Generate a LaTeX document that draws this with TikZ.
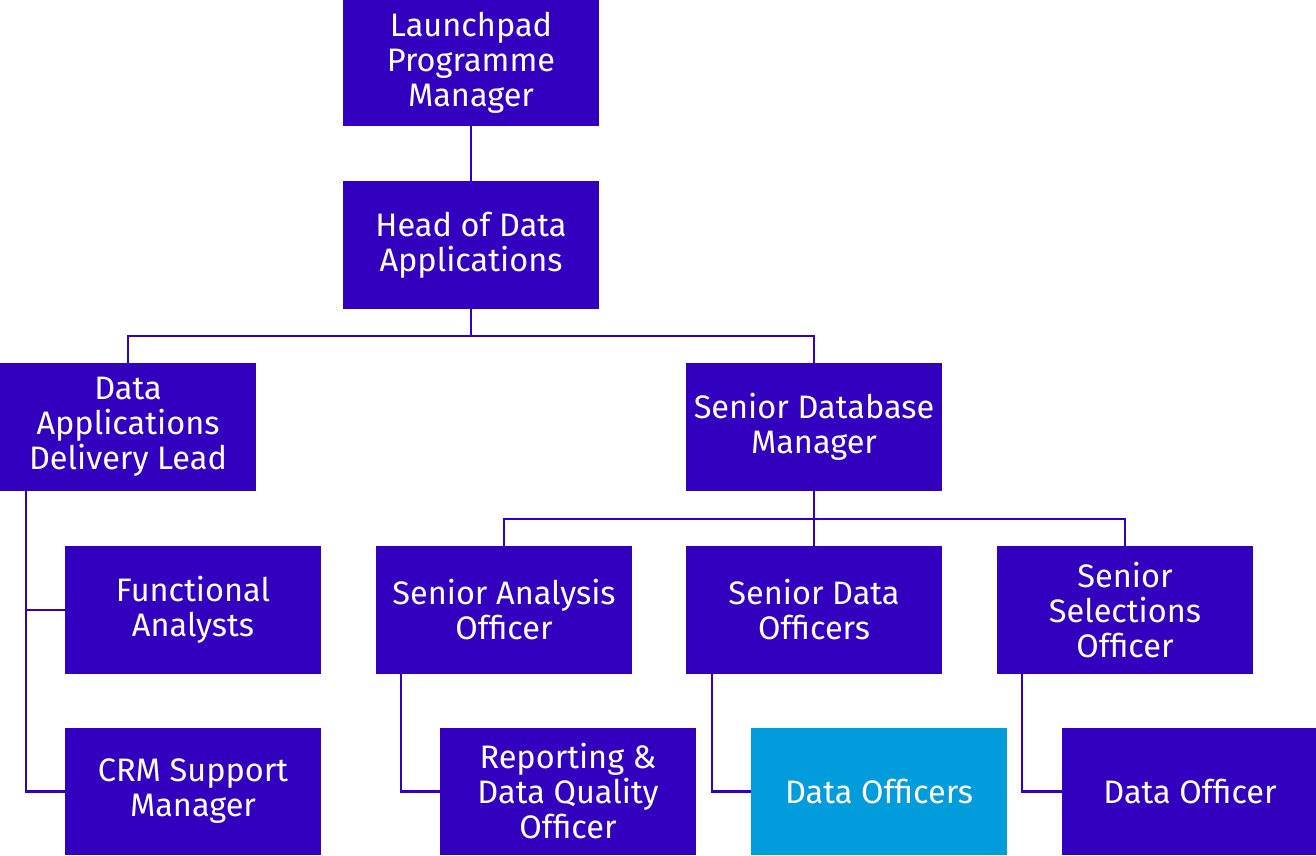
\documentclass[tikz,border=0pt]{standalone}
\usepackage{fontspec}
\setmainfont{Fira Sans}
\definecolor{purp}{HTML}{3300BF}
\definecolor{lblue}{HTML}{009CDB}
\begin{document}
\begin{tikzpicture}[x=1pt,y=-1pt,
  box/.style={fill=purp,text=white,minimum width=256pt,minimum height=128pt,inner sep=0pt,align=center,font=\fontsize{32.5}{35}\selectfont},
  hbox/.style={box,fill=lblue},
  conn/.style={draw=purp,line width=2.2pt}]
\useasboundingbox (0,0) rectangle (1316,855);
\node[box,minimum height=126pt] (launch) at (471,63) {Launchpad\\Programme\\Manager};
\node[box] (head) at (471,245) {Head of Data\\Applications};
\node[box] (dadl) at (128,427) {Data\\Applications\\Delivery Lead};
\node[box] (sdm) at (814,427) {Senior Database\\Manager};
\node[box] (fa) at (193,610) {Functional\\Analysts};
\node[box,minimum height=127pt] (crm) at (193,791.5) {CRM Support\\Manager};
\node[box] (sao) at (504,610) {Senior Analysis\\Officer};
\node[box] (sdo) at (814,610) {Senior Data\\Officers};
\node[box] (sso) at (1125,610) {Senior\\Selections\\Officer};
\node[box,minimum height=127pt] (rdq) at (568,791.5) {Reporting \&\\Data Quality\\Officer};
\node[hbox,minimum height=127pt] (dos) at (879,791.5) {Data Officers};
\node[box,minimum height=127pt] (do) at (1190,791.5) {Data Officer};
\draw[conn] (launch) -- (head);
\draw[conn] (head.south) -- ++(0,27) coordinate (hb);
\draw[conn] (hb) -| (dadl.north);
\draw[conn] (hb) -| (sdm.north);
\draw[conn] (sdm.south) -- ++(0,28) coordinate (sb);
\draw[conn] (sb) -| (sao.north);
\draw[conn] (sb) -| (sdo.north);
\draw[conn] (sb) -| (sso.north);
\draw[conn] ([xshift=26pt]dadl.south west) |- (fa.west);
\draw[conn] ([xshift=26pt]dadl.south west) |- (crm.west);
\draw[conn] ([xshift=25pt]sao.south west) |- (rdq.west);
\draw[conn] ([xshift=26pt]sdo.south west) |- (dos.west);
\draw[conn] ([xshift=25pt]sso.south west) |- (do.west);
\end{tikzpicture}
\end{document}
